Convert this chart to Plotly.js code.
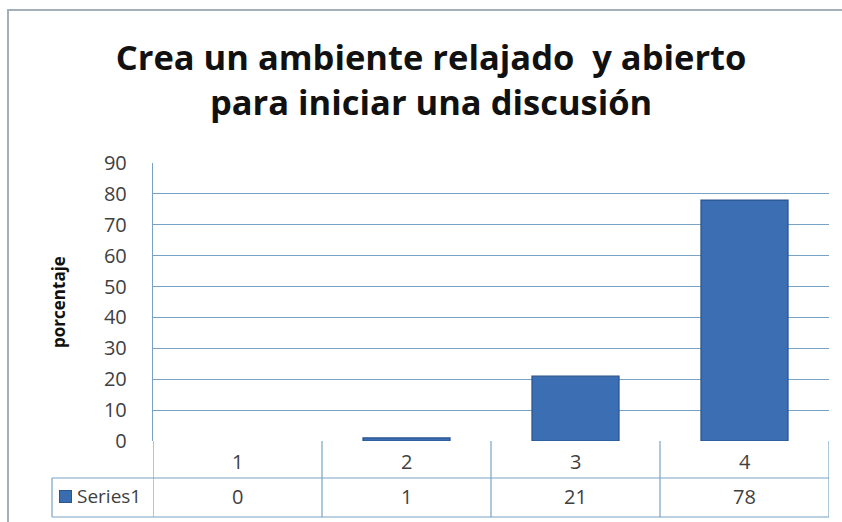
<!DOCTYPE html>
<html>
<head>
<meta charset="utf-8">
<script src="https://cdn.plot.ly/plotly-3.0.1.min.js"></script>
<style>
html,body{margin:0;padding:0;background:#fff;}
#wrap{position:relative;width:842px;height:522px;}
#chart{width:842px;height:522px;}
#frame{position:absolute;left:7px;top:9px;width:850px;height:530px;border:2px solid #a3b0ba;pointer-events:none;box-sizing:border-box;}
</style>
</head>
<body>
<div id="wrap"><div id="chart"></div><div id="frame"></div></div>
<script>
const categories = [1, 2, 3, 4];
const categoryLabels = ['1', '2', '3', '4'];
const seriesName = 'Series1';
const values = [0, 1, 21, 78];
const yTicks = [0, 10, 20, 30, 40, 50, 60, 70, 80, 90];

const FONT = '"Open Sans", "Noto Sans", sans-serif';
const lineCol = '#78a3c4';
const textCol = '#3f3f3f';

const plotH = 278, plotW = 676;
const px = v => -v / plotH;
const row1Bottom = px(37), row2Bottom = px(76);
const row1Mid = px(20), row2Mid = px(55);
const legendLeftX = (52 - 153) / plotW;

const shapes = [];
const bounds = [0.5].concat(categories.map(c => c + 0.5));
bounds.forEach(b => {
  shapes.push({type:'line', xref:'x', yref:'paper', x0:b, x1:b, y0:0, y1:row2Bottom, line:{color:lineCol, width:1.2}});
});
shapes.push({type:'line', xref:'paper', yref:'paper', x0:legendLeftX, x1:1, y0:row1Bottom, y1:row1Bottom, line:{color:lineCol, width:1.2}});
shapes.push({type:'line', xref:'paper', yref:'paper', x0:legendLeftX, x1:1, y0:row2Bottom, y1:row2Bottom, line:{color:lineCol, width:1.2}});
shapes.push({type:'line', xref:'paper', yref:'paper', x0:legendLeftX, x1:legendLeftX, y0:row1Bottom, y1:row2Bottom, line:{color:lineCol, width:1.2}});

const annotations = [];
categories.forEach((c, i) => {
  annotations.push({xref:'x', yref:'paper', x:c, y:row1Mid, text:categoryLabels[i], showarrow:false, font:{family:FONT, size:20, color:textCol}, yanchor:'middle'});
  annotations.push({xref:'x', yref:'paper', x:c, y:row2Mid, text:String(values[i]), showarrow:false, font:{family:FONT, size:20, color:textCol}, yanchor:'middle'});
});
annotations.push({xref:'paper', yref:'paper', x:(59 - 153) / plotW, y:row2Mid, xanchor:'left', yanchor:'middle', showarrow:false,
  text:' ', width:11, height:11, bgcolor:'#3a6db0', bordercolor:'#2a5591', borderwidth:1, borderpad:0});
annotations.push({xref:'paper', yref:'paper', x:(75 - 153) / plotW, y:row2Mid, xanchor:'left', yanchor:'middle', showarrow:false,
  text:seriesName, font:{family:FONT, size:19, color:textCol}});

const trace = {
  type:'bar', x:categories, y:values, name:seriesName,
  marker:{color:'#3b6eb2', line:{color:'#28538e', width:values.map(v => v > 0 ? 1.2 : 0)}},
  width:0.515, hoverinfo:'none'
};

const layout = {
  width:842, height:522,
  margin:{l:153, r:13, t:163, b:81},
  paper_bgcolor:'#ffffff', plot_bgcolor:'#ffffff',
  showlegend:false,
  title:{text:'Crea un ambiente relajado  y abierto<br>para iniciar una discusión', x:0.512, xanchor:'center', xref:'container', y:0.865, yanchor:'top', yref:'container',
    font:{family:FONT, size:34.5, color:'#111111', weight:'bold'}},
  xaxis:{range:[0.5, 4.5], showticklabels:false, showgrid:false, zeroline:false, showline:false, ticks:'', fixedrange:true},
  yaxis:{range:[0, 90], tickvals:yTicks, ticktext:yTicks.map(String), showgrid:true, gridcolor:lineCol, gridwidth:1.2,
    zeroline:false, showline:true, linecolor:lineCol, linewidth:1.2, ticks:'', ticklabelstandoff:21,
    tickfont:{family:FONT, size:20, color:textCol},
    title:{text:'porcentaje', font:{family:FONT, size:17, color:'#111111', weight:'bold'}, standoff:34}},
  shapes:shapes, annotations:annotations
};

Plotly.newPlot('chart', [trace], layout, {displayModeBar:false, staticPlot:true});
</script>
</body>
</html>
